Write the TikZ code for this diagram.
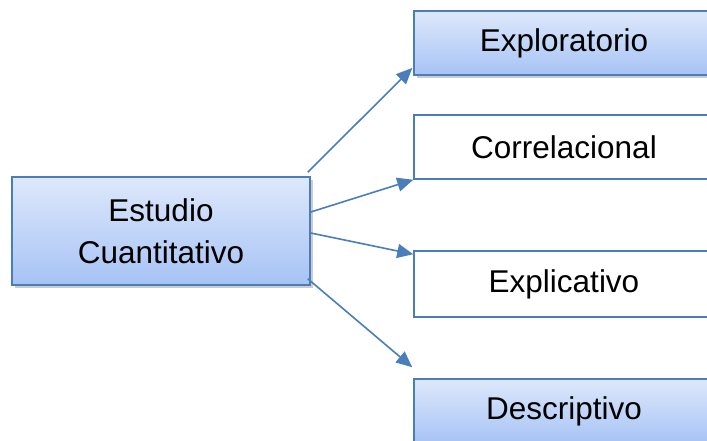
\documentclass[tikz,border=0pt]{standalone}
\usepackage{fontspec}
\setmainfont{Liberation Sans}
\usetikzlibrary{arrows.meta,shadows,calc}
\definecolor{edgeblue}{HTML}{4A7EBB}
\definecolor{topblue}{HTML}{DEE8FB}
\definecolor{botblue}{HTML}{A6C3F5}
\tikzset{
  boxbase/.style={draw=edgeblue, line width=1.5pt, rectangle, inner sep=0pt,
    minimum width=300pt, align=center,
    font=\fontsize{31.5}{42.5}\selectfont},
  bluebox/.style={boxbase, top color=topblue, bottom color=botblue,
    drop shadow={shadow xshift=2.5pt, shadow yshift=-3pt, fill=black, opacity=0.2}},
  whitebox/.style={boxbase, fill=white},
  link/.style={draw=edgeblue, line width=1.6pt,
    -{Triangle[length=16pt,width=14pt]}}
}
\begin{document}
\begin{tikzpicture}[x=1pt,y=-1pt]
  \useasboundingbox (0,0) rectangle (707,441);
  \clip (0,0) rectangle (707,441);
  \fill[white] (0,0) rectangle (707,441);

  % source box
  \node[bluebox, minimum width=298pt, minimum height=108pt] (main) at (161,231)
    {Estudio\\Cuantitativo};

  % target boxes
  \node[bluebox,  minimum height=64pt] (e1) at (564,43)  {Exploratorio};
  \node[whitebox, minimum height=64pt] (e2) at (564,147) {Correlacional};
  \node[whitebox, minimum height=66pt] (e3) at (564,284) {Explicativo};
  \node[bluebox,  minimum height=64pt] (e4) at (564,411) {Descriptivo};

  % connectors
  \draw[link] ($(main.north east)+(-3,-4)$) -- ($(e1.west)+(-1,25)$);
  \draw[link] ($(main.east)+(0,-19)$) -- (e2.south west);
  \draw[link] ($(main.east)+(0,2)$) -- ($(e3.north west)+(0,4)$);
  \draw[link] ($(main.south east)+(-3,-7)$) -- ($(e4.north west)+(-1,-11)$);
\end{tikzpicture}
\end{document}
